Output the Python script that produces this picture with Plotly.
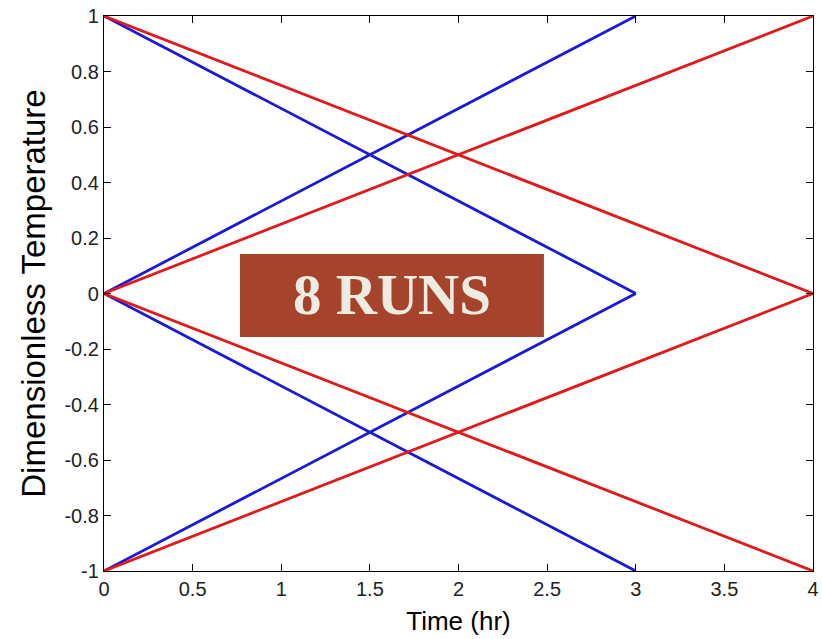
import plotly.graph_objects as go

# Temperature ramps: each run goes linearly from a start value to an end value
blue_starts = [1, 0, 0, -1]
blue_ends = [0, 1, -1, 0]
blue_duration = [3, 3, 3, 3]

red_starts = [1, 0, 0, -1]
red_ends = [0, 1, -1, 0]
red_duration = [4, 4, 4, 4]

x_ticks = [0, 0.5, 1, 1.5, 2, 2.5, 3, 3.5, 4]
x_tick_text = ["0", "0.5", "1", "1.5", "2", "2.5", "3", "3.5", "4"]
y_ticks = [-1, -0.8, -0.6, -0.4, -0.2, 0, 0.2, 0.4, 0.6, 0.8, 1]
y_tick_text = ["-1", "-0.8", "-0.6", "-0.4", "-0.2", "0", "0.2", "0.4", "0.6", "0.8", "1"]

BLUE = "rgb(25,25,215)"
RED = "rgb(225,25,25)"

fig = go.Figure()
for s, e, d in zip(blue_starts, blue_ends, blue_duration):
    fig.add_trace(go.Scatter(x=[0, d], y=[s, e], mode="lines",
                             line=dict(color=BLUE, width=2.8), showlegend=False))
for s, e, d in zip(red_starts, red_ends, red_duration):
    fig.add_trace(go.Scatter(x=[0, d], y=[s, e], mode="lines",
                             line=dict(color=RED, width=2.8), showlegend=False))

axis_common = dict(showline=True, linecolor="black", linewidth=1.2, mirror="ticks",
                   ticks="inside", ticklen=7, tickcolor="black", tickwidth=1.2,
                   showgrid=False, zeroline=False, automargin=False,
                   tickfont=dict(family="Liberation Sans, Arial", size=20, color="#222"))

fig.update_layout(
    width=822, height=639,
    margin=dict(l=104, r=9, t=16, b=68, autoexpand=False),
    paper_bgcolor="white", plot_bgcolor="white",
    xaxis=dict(range=[0, 4], tickvals=x_ticks, ticktext=x_tick_text,
               title=dict(text="Time (hr)", standoff=12,
                          font=dict(family="Liberation Sans, Arial", size=26, color="black")),
               **axis_common),
    yaxis=dict(range=[-1, 1], tickvals=y_ticks, ticktext=y_tick_text,
               title=dict(text="Dimensionless Temperature", standoff=8,
                          font=dict(family="Liberation Sans, Arial", size=33, color="black")),
               **axis_common),
    shapes=[dict(type="rect", xref="x", yref="y", x0=0.767, x1=2.482, y0=-0.157, y1=0.142,
                 fillcolor="rgb(166,67,44)", line=dict(width=0), layer="above")],
    annotations=[dict(x=1.625, y=-0.005, xref="x", yref="y", text="<b>8 RUNS</b>",
                      showarrow=False,
                      font=dict(family="Liberation Serif, Times New Roman", size=57,
                                color="rgb(238,235,224)"))],
)

fig.write_html("out.html")
